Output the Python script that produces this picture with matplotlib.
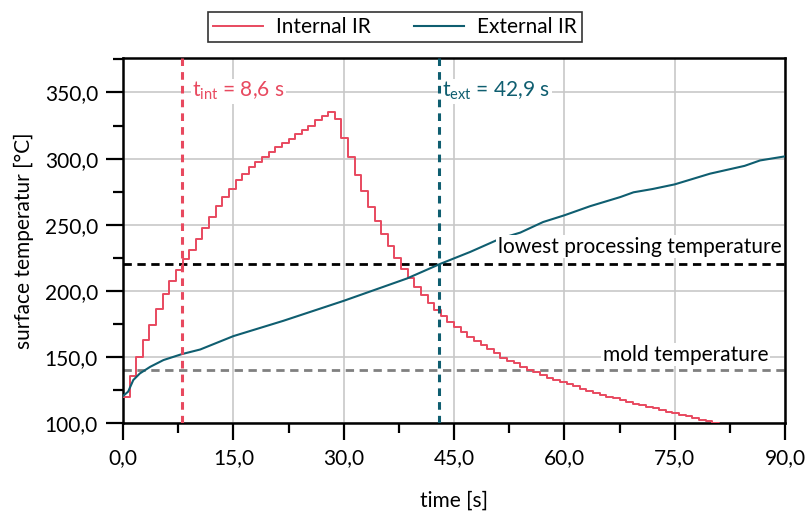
import numpy as np
import matplotlib
matplotlib.use('Agg')
import matplotlib.pyplot as plt
from matplotlib.ticker import MultipleLocator, FuncFormatter

plt.rcParams['font.family'] = ['Lato', 'DejaVu Sans']
plt.rcParams['mathtext.fontset'] = 'custom'
plt.rcParams['mathtext.rm'] = 'Lato'
plt.rcParams['mathtext.it'] = 'Lato:italic'

# internal IR: stepped readings, one every 0.9 s
step_int = 0.9
temp_int = [120, 135.5, 149.6, 162.7, 174, 186.6, 197.4, 207.3, 216, 224,
            231, 239, 247.5, 255.8, 263.9, 270.9, 277.3, 283.5, 288.6, 293.6,
            297.4, 301.1, 304.9, 308.7, 311.7, 315, 318.3, 321.8, 325, 328.9,
            332, 335.1, 330, 315.7, 301, 287.8, 275.4, 263.4, 252.8, 242.7,
            234, 224.5, 216.8, 210, 203, 196.7, 190.9, 185.3, 180.8, 176.5,
            172.7, 169, 165.2, 162.2, 158.9, 155.7, 152.6, 149.3, 147, 145,
            142.6, 140.3, 138.2, 136.2, 134.4, 132.5, 130.8, 129.2, 127.6, 126,
            124.5, 123, 121.5, 120, 118.6, 117.3, 116, 114.7, 113.5, 112.2,
            111, 109.8, 108.6, 107.4, 106.2, 105, 103.8, 102.6, 101.3, 100.1, 99]
time_int = np.arange(len(temp_int)) * step_int

# external IR
time_ext = [0, 0.7, 1.4, 2.3, 3.7, 5.5, 8.0, 10.5, 15, 21.8, 30, 38.6, 43.1,
            47.2, 51.3, 54, 57.1, 60, 63.5, 67.6, 69.4, 72, 75, 79.8, 84.5,
            86.6, 90]
temp_ext = [120.4, 123.7, 132.5, 137.5, 142.5, 147.6, 152.1, 155.6, 165.7,
            177.3, 192.4, 209.3, 220.3, 229.4, 239.5, 244, 252, 257.1, 264,
            270.9, 274.5, 277, 280.5, 288.6, 294.5, 298.6, 301.7]

t_int_line = 8.0
t_ext_line = 43.0
t_lowest = 220
t_mold = 140

red = '#E8495F'
teal = '#0F5E70'
fs = 15

fig = plt.figure(figsize=(8.06, 5.19), dpi=100)
ax = fig.add_axes([0.1526, 0.185, 0.8214, 0.703])

ax.grid(True, which='major', color='#c8c8c8', linewidth=1.2, zorder=0)
ax.set_axisbelow(True)

l1, = ax.plot(time_int, temp_int, color=red, lw=1.4, drawstyle='steps-post',
              label='Internal IR', zorder=3)
l2, = ax.plot(time_ext, temp_ext, color=teal, lw=1.5, label='External IR', zorder=3)

ax.axhline(t_lowest, color='black', lw=2, dashes=(3, 2), zorder=2)
ax.axhline(t_mold, color='#808080', lw=2, dashes=(3, 2), zorder=2)
ax.axvline(t_int_line, color=red, lw=2.2, dashes=(2.5, 2), zorder=4)
ax.axvline(t_ext_line, color=teal, lw=2.2, dashes=(2.5, 2), zorder=4)

box = dict(facecolor='white', edgecolor='none', pad=1)
ax.text(9.4, 351, r'$\mathrm{t_{int}}$ = 8,6 s', color=red, fontsize=fs,
        va='center', ha='left', bbox=box, zorder=2.5)
ax.text(43.4, 351, r'$\mathrm{t_{ext}}$ = 42,9 s', color=teal, fontsize=fs,
        va='center', ha='left', bbox=box, zorder=2.5)
ax.text(89.5, 233.5, 'lowest processing temperature', fontsize=fs,
        va='center', ha='right', bbox=box, zorder=3.5)
ax.text(87.7, 151.5, 'mold temperature', fontsize=fs,
        va='center', ha='right', bbox=box, zorder=2.5)

ax.set_xlim(0, 90)
ax.set_ylim(100, 376)
ax.xaxis.set_major_locator(MultipleLocator(15))
ax.xaxis.set_minor_locator(MultipleLocator(7.5))
ax.yaxis.set_major_locator(MultipleLocator(50))
ax.yaxis.set_minor_locator(MultipleLocator(25))
fmt = FuncFormatter(lambda v, p: f'{v:.1f}'.replace('.', ','))
ax.xaxis.set_major_formatter(fmt)
ax.yaxis.set_major_formatter(fmt)
ax.tick_params(which='major', direction='out', length=12, width=1.6,
               labelsize=fs, pad=6)
ax.tick_params(which='minor', direction='out', length=7, width=1.6)
for s in ax.spines.values():
    s.set_linewidth(1.8)

ax.set_xlabel('time [s]', fontsize=fs, labelpad=16)
ax.set_ylabel('surface temperatur [°C]', fontsize=fs, labelpad=8)

leg = fig.legend(handles=[l1, l2], loc='center', bbox_to_anchor=(0.49, 0.948),
                 ncol=2, fontsize=fs, frameon=True, fancybox=False,
                 handlelength=2.4, columnspacing=2.1, borderpad=0.25,
                 handletextpad=0.6)
leg.get_frame().set_edgecolor('black')
leg.get_frame().set_linewidth(1.2)

fig.savefig('out.png', dpi=100)
